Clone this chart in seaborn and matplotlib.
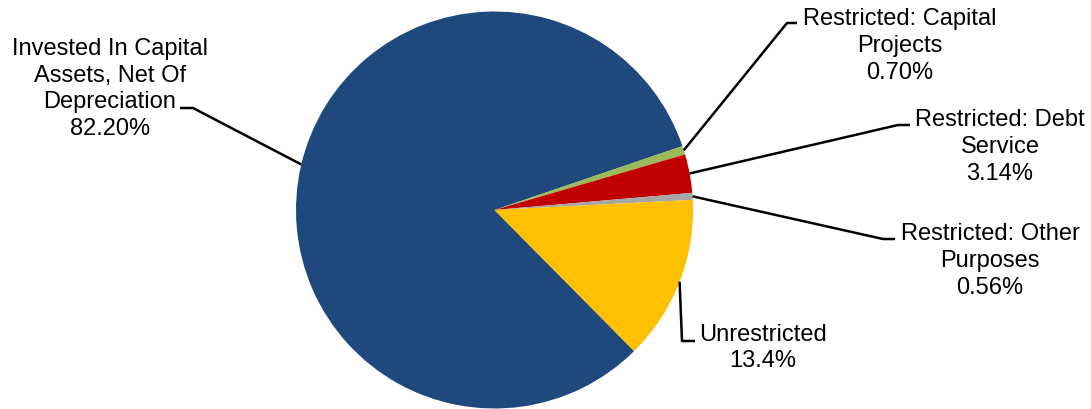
import numpy as np
import matplotlib
matplotlib.use("Agg")
import matplotlib.pyplot as plt
import seaborn as sns

# Net position composition
categories = [
    "Invested In Capital\nAssets, Net Of\nDepreciation",
    "Restricted: Capital\nProjects",
    "Restricted: Debt\nService",
    "Restricted: Other\nPurposes",
    "Unrestricted",
]
shares = [82.20, 0.70, 3.14, 0.56, 13.4]
share_labels = ["82.20%", "0.70%", "3.14%", "0.56%", "13.4%"]
colors = ["#1F497D", "#9BBB59", "#C00000", "#A6A6A6", "#FFC000"]

sns.set_style("white")
plt.rcParams["font.family"] = ["Liberation Sans", "DejaVu Sans"]

W, H = 1091, 410
fig = plt.figure(figsize=(W / 100, H / 100), dpi=100)
ax = fig.add_axes([0, 0, 1, 1])

cx, cy, r = 494.5, H - 211, 198.5
wedges, _ = ax.pie(
    shares,
    colors=colors,
    startangle=-45.3,
    counterclock=False,
    center=(cx, cy),
    radius=r,
    wedgeprops=dict(linewidth=0),
    frame=True,
)
ax.set_xlim(0, W)
ax.set_ylim(0, H)
ax.set_aspect("equal")
ax.axis("off")

# label layout: (elbow point, line end, text centre) in pixel units from top-left
layout = [
    ((193, 109), (180, 109), (110, 89)),
    ((787, 24), (797, 24), (900, 46)),
    ((898, 126), (910, 126), (1000, 147)),
    ((883, 240), (895, 240), (990, 261)),
    ((682, 342), (695, 342), (763, 348)),
]

for w, cat, lab, (elbow, end, tpos) in zip(wedges, categories, share_labels, layout):
    mid = np.deg2rad((w.theta1 + w.theta2) / 2)
    ex, ey = cx + r * np.cos(mid), cy + r * np.sin(mid)
    xs = [ex, elbow[0], end[0]]
    ys = [ey, H - elbow[1], H - end[1]]
    ax.plot(xs, ys, color="black", lw=1.8, solid_capstyle="butt", zorder=3)
    ax.text(tpos[0], H - tpos[1], f"{cat}\n{lab}", ha="center", va="center",
            multialignment="center", fontsize=17, color="black", linespacing=1.27)

fig.savefig("out.png", dpi=100, facecolor="white")
